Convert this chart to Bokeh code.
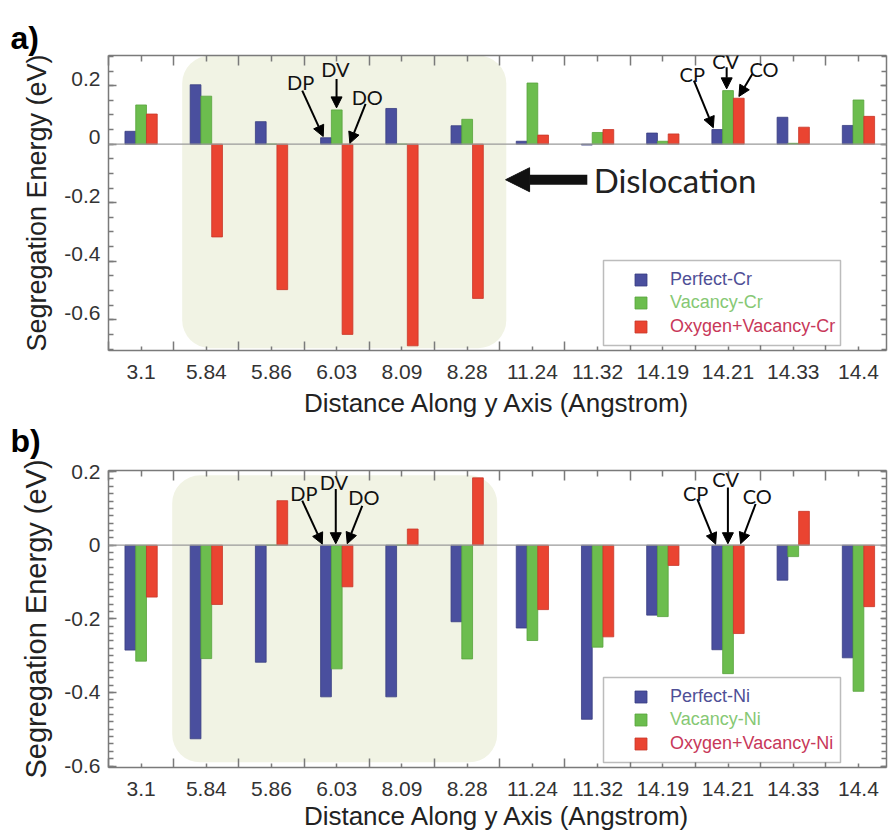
import numpy as np
from bokeh.plotting import figure
from bokeh.layouts import column
from bokeh.models import (Range1d, FixedTicker, LinearAxis, Span, BoxAnnotation, Label, Title,
                          Arrow, NormalHead, Legend, LegendItem, CustomJSTickFormatter)
from bokeh.embed import file_html
from bokeh.resources import INLINE

# ---------------- data ----------------
categories = ["3.1", "5.84", "5.86", "6.03", "8.09", "8.28",
              "11.24", "11.32", "14.19", "14.21", "14.33", "14.4"]

perfect_cr = [0.044, 0.203, 0.077, 0.022, 0.122, 0.063, 0.010, -0.003, 0.038, 0.050, 0.092, 0.064]
vacancy_cr = [0.134, 0.164, 0.0, 0.117, 0.0, 0.085, 0.209, 0.040, 0.010, 0.183, 0.003, 0.151]
oxyvac_cr = [0.103, -0.317, -0.497, -0.650, -0.689, -0.527, 0.031, 0.050, 0.035, 0.157, 0.058, 0.095]

perfect_ni = [-0.285, -0.526, -0.318, -0.412, -0.412, -0.208, -0.225, -0.473, -0.190, -0.284, -0.095, -0.306]
vacancy_ni = [-0.315, -0.308, 0.0, -0.336, 0.0, -0.309, -0.259, -0.277, -0.194, -0.349, -0.031, -0.397]
oxyvac_ni = [-0.141, -0.161, 0.121, -0.113, 0.044, 0.183, -0.175, -0.249, -0.055, -0.240, 0.092, -0.167]

names_cr = ["Perfect-Cr", "Vacancy-Cr", "Oxygen+Vacancy-Cr"]
names_ni = ["Perfect-Ni", "Vacancy-Ni", "Oxygen+Vacancy-Ni"]

y_major = [-0.6, -0.4, -0.2, 0.0, 0.2]

# ---------------- style ----------------
BAR_COLORS = ["#4A4F9E", "#6CBD4E", "#EA4431"]
BAR_LINES = ["#383D80", "#58A33C", "#C8372A"]
LEG_TEXT = ["#4F4F96", "#86C874", "#C8385A"]
SHADE = "#F1F3E4"
AXIS_C = "#7A7A7A"
TICK_FONT = "Liberation Sans"
ANN_FONT = "Lato"
BAR_W = 0.165
OFFS = [-0.165, 0.0, 0.165]
X_END = 11.43


def tag_title(text):
    return Title(text=text, align="left", offset=-98, text_font=TICK_FONT,
                 text_font_style="bold", text_font_size="32px", text_color="black",
                 standoff=0)


def make_panel(series, names, y_start, y_end, minor_step, height, top_border,
               bottom_border, ylabel_size, xlabel_standoff, top_gap, lift_px,
               shade, annots):
    n = len(categories)
    idx = np.arange(n)
    p = figure(width=891, height=height, output_backend="svg", toolbar_location=None,
               x_range=Range1d(-0.5, X_END), y_range=Range1d(y_start, y_end),
               x_axis_type=None, y_axis_type=None,
               min_border_left=108, min_border_right=5,
               min_border_top=top_border, min_border_bottom=bottom_border,
               background_fill_color="white", border_fill_color="white")
    p.outline_line_color = None
    p.xgrid.visible = False
    p.ygrid.visible = False

    # a second y range, shifted a few pixels, only to carry the y tick labels
    frame_h = height - top_border - bottom_border
    d = lift_px * (y_end - y_start) / frame_h
    p.extra_y_ranges = {"lab": Range1d(y_start - d, y_end - d)}

    xt = FixedTicker(ticks=list(range(n)), minor_ticks=[i + 0.5 for i in range(-1, n)])
    y_minor = [round(v, 3) for v in np.arange(np.ceil(y_start / minor_step) * minor_step,
                                               y_end + 1e-9, minor_step)]
    yt = FixedTicker(ticks=y_major, minor_ticks=y_minor)
    xfmt = CustomJSTickFormatter(args=dict(cats=categories),
                                 code="const i = Math.round(tick); return (i >= 0 && i < cats.length) ? cats[i] : '';")
    yfmt = CustomJSTickFormatter(code="return Math.abs(tick) < 1e-9 ? '0' : tick.toFixed(1);")
    blank = CustomJSTickFormatter(code="return '';")

    def style(ax, show_labels, mj, mn, standoff=8):
        ax.axis_line_color = AXIS_C
        ax.axis_line_width = 1.5
        ax.major_tick_line_color = AXIS_C
        ax.minor_tick_line_color = AXIS_C
        ax.major_tick_line_width = 1.5
        ax.minor_tick_line_width = 1.5
        ax.major_tick_out = 0
        ax.minor_tick_out = 0
        ax.major_tick_in = mj
        ax.minor_tick_in = mn
        if show_labels:
            ax.major_label_text_font = TICK_FONT
            ax.major_label_text_font_size = "21px"
            ax.major_label_text_color = "#333333"
            ax.major_label_standoff = standoff
        else:
            ax.major_label_text_font_size = "0px"
            ax.major_label_standoff = 0

    xb = LinearAxis(ticker=xt, formatter=xfmt)
    style(xb, True, 4, 9, standoff=14)
    xb.axis_label = "Distance Along y Axis (Angstrom)"
    xb.axis_label_text_font = TICK_FONT
    xb.axis_label_text_font_style = "normal"
    xb.axis_label_text_font_size = "26px"
    xb.axis_label_text_color = "#222222"
    xb.axis_label_standoff = xlabel_standoff
    p.add_layout(xb, "below")

    xa = LinearAxis(ticker=xt, formatter=blank)
    style(xa, False, 6, 10)
    xa.major_label_standoff = top_gap
    p.add_layout(xa, "above")

    # left: tick marks on the frame edge
    yl = LinearAxis(ticker=yt, formatter=blank)
    style(yl, False, 8, 5)
    p.add_layout(yl, "left")

    # left: tick labels + axis title (drawn from the slightly lifted range)
    ylab = LinearAxis(y_range_name="lab", ticker=FixedTicker(ticks=y_major, minor_ticks=[]),
                      formatter=yfmt)
    style(ylab, True, 0, 0, standoff=8)
    ylab.axis_line_color = None
    ylab.major_tick_line_color = None
    ylab.minor_tick_line_color = None
    ylab.axis_label = "Segregation Energy (eV)"
    ylab.axis_label_text_font = TICK_FONT
    ylab.axis_label_text_font_style = "normal"
    ylab.axis_label_text_font_size = ylabel_size
    ylab.axis_label_text_color = "#222222"
    ylab.axis_label_standoff = 9
    p.add_layout(ylab, "left")

    yr = LinearAxis(ticker=yt, formatter=blank)
    style(yr, False, 6, 5)
    p.add_layout(yr, "right")

    # shaded dislocation region
    sl, sr, st, sb = shade
    p.add_layout(BoxAnnotation(left=sl, right=sr, top=st, bottom=sb, fill_color=SHADE,
                               fill_alpha=1.0, line_color=None, border_radius=28,
                               level="underlay"))
    p.add_layout(Span(location=0, dimension="width", line_color="#9A9A9A", line_width=1.2))

    renderers = []
    for k in range(3):
        r = p.vbar(x=idx + OFFS[k], top=series[k], bottom=0, width=BAR_W,
                   fill_color=BAR_COLORS[k], line_color=BAR_LINES[k], line_width=0.8)
        renderers.append(r)

    # legend frame + one legend per entry (each with its own text colour)
    p.add_layout(BoxAnnotation(left=495, right=732, bottom=5, top=90,
                               left_units="screen", right_units="screen",
                               top_units="screen", bottom_units="screen",
                               fill_color="white", fill_alpha=1.0,
                               line_color="#222222", line_width=1.5, level="annotation"))
    row_bottoms = [60, 37, 13]
    for k in range(3):
        leg = Legend(items=[LegendItem(label=names[k], renderers=[renderers[k]])],
                     location=(525, row_bottoms[k]), border_line_color=None,
                     background_fill_alpha=0.0, padding=0, margin=0, spacing=0,
                     glyph_width=15, glyph_height=15, label_height=15,
                     label_standoff=22, label_text_font=TICK_FONT,
                     label_text_font_size="18px", label_text_color=LEG_TEXT[k])
        p.add_layout(leg)

    head = lambda: NormalHead(size=11, fill_color="black", line_color="black")
    for (txt, tx, ty, x0, y0, x1, y1) in annots:
        p.add_layout(Arrow(x_start=x0, y_start=y0, x_end=x1, y_end=y1, end=head(),
                           line_color="black", line_width=2))
        p.add_layout(Label(x=tx, y=ty, text=txt, text_font=ANN_FONT, text_font_size="20px",
                           text_color="#111111", text_align="center", text_baseline="middle"))
    return p


annots_a = [
    ("DP", 2.445, 0.212, 2.471, 0.183, 2.793, 0.026),
    ("DV", 2.98, 0.257, 2.997, 0.223, 2.997, 0.124),
    ("DO", 3.468, 0.160, 3.442, 0.138, 3.201, 0.003),
    ("CP", 8.452, 0.240, 8.477, 0.217, 8.774, 0.056),
    ("CV", 8.963, 0.285, 8.979, 0.263, 8.979, 0.189),
    ("CO", 9.551, 0.257, 9.373, 0.240, 9.167, 0.163),
]
annots_b = [
    ("DP", 2.495, 0.143, 2.471, 0.121, 2.778, 0.003),
    ("DV", 2.955, 0.171, 2.985, 0.153, 2.985, 0.004),
    ("DO", 3.416, 0.130, 3.391, 0.107, 3.161, 0.004),
    ("CP", 8.503, 0.143, 8.529, 0.125, 8.81, 0.003),
    ("CV", 8.963, 0.180, 8.998, 0.157, 8.998, 0.004),
    ("CO", 9.449, 0.134, 9.423, 0.112, 9.193, 0.004),
]

pa = make_panel([perfect_cr, vacancy_cr, oxyvac_cr], names_cr, -0.705, 0.303, 0.05,
                460, 55, 110, "27px", 6, 5, 7,
                (0.630, 5.60, 0.303, -0.697), annots_a)
pb = make_panel([perfect_ni, vacancy_ni, oxyvac_ni], names_ni, -0.604, 0.203, 0.02,
                376, 10, 69, "29px", 2, 0, 0,
                (0.477, 5.46, 0.19, -0.59), annots_b)

# panel tags: "a)" above panel a, "b)" in the gap below panel a's axis
pa.add_layout(tag_title("a)"), "above")
pa.add_layout(tag_title("b)"), "below")

# Dislocation arrow + text (panel a)
pa.add_layout(Arrow(x_start=6.842, y_start=-0.1215, x_end=5.589, y_end=-0.1215,
                    end=NormalHead(size=24, fill_color="#111111", line_color="#111111"),
                    line_color="#111111", line_width=10))
pa.add_layout(Label(x=6.939, y=-0.1215, text="Dislocation", text_font=ANN_FONT,
                    text_font_size="33px", text_color="#222222",
                    text_align="left", text_baseline="middle"))

layout = column(pa, pb, spacing=0)
open("out.html", "w").write(file_html(layout, INLINE))
